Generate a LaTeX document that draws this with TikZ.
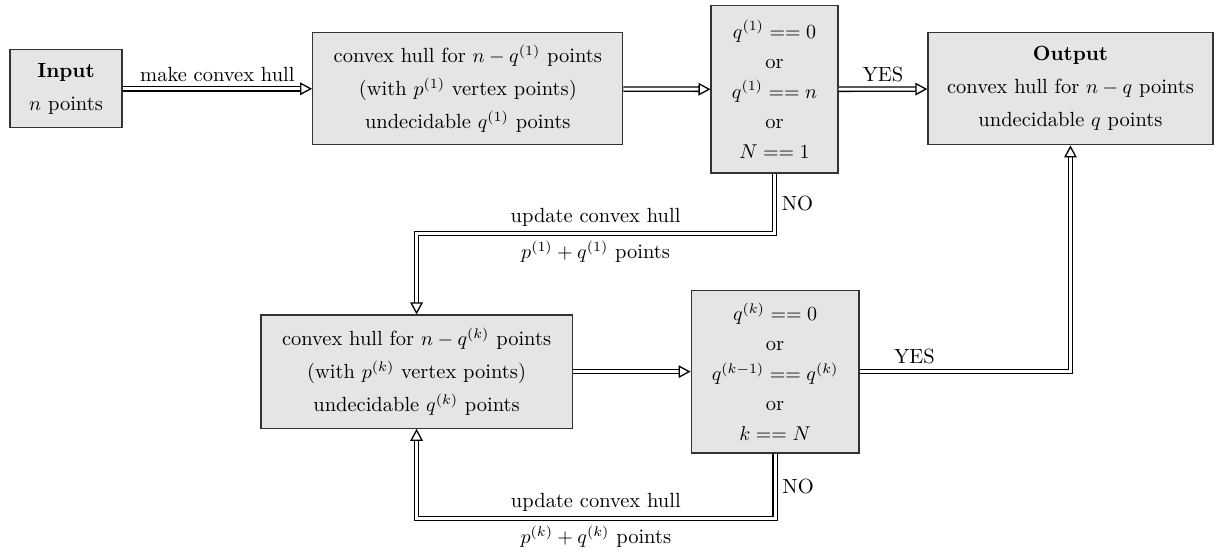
\documentclass[tikz,border=0pt]{standalone}
\usepackage{tikz}
\usetikzlibrary{arrows.meta}

\begin{document}
\begin{tikzpicture}[>={Triangle[open,length=6pt,width=6.3pt]}, semithick, font=\fontsize{10.25pt}{12.4pt}\selectfont]

    \tikzstyle{hullbox}=[draw=black!80, fill=gray!20, align=center, font=\fontsize{10.25pt}{16.5pt}\selectfont]
    \tikzstyle{testbox}=[hullbox, font=\fontsize{10.25pt}{15pt}\selectfont]
    \tikzstyle{flow}=[->, double, double distance=1.5pt, line width=0.65pt] % double arrows between boxes

    \useasboundingbox (0,0) rectangle (21.42,-9.70);

    % create the boxes of the first round
    \node[hullbox, minimum width=1.97cm, minimum height=1.37cm] (input) at (1.16,-1.56) {\textbf{Input}\\$n$ points};
    \node[hullbox, minimum width=5.45cm, minimum height=1.97cm] (hull_first) at (8.22,-1.56) {convex hull for $n-q^{(1)}$ points\\(with $p^{(1)}$ vertex points)\\undecidable $q^{(1)}$ points};
    \node[testbox, minimum width=2.23cm, minimum height=2.94cm] (test_first) at (13.61,-1.57) {$q^{(1)} == 0$\\or\\$q^{(1)} == n$\\or\\$N == 1$};
    \node[hullbox, minimum width=5.01cm, minimum height=1.97cm] (output) at (18.81,-1.56) {\textbf{Output}\\convex hull for $n-q$ points\\undecidable $q$ points};

    % boxes of the k-th round
    \node[hullbox, minimum width=5.47cm, minimum height=1.99cm] (hull_k) at (7.32,-6.53) {convex hull for $n-q^{(k)}$ points\\(with $p^{(k)}$ vertex points)\\undecidable $q^{(k)}$ points};
    \node[testbox, minimum width=2.95cm, minimum height=2.86cm] (test_k) at (13.62,-6.53) {$q^{(k)} == 0$\\or\\$q^{(k-1)} == q^{(k)}$\\or\\$k == N$};

    % straight arrows
    \draw[flow] (input) -- node[above] {make convex hull} (hull_first);
    \draw[flow] (hull_first) -- (test_first);
    \draw[flow] (test_first) -- node[above] {YES} (output);
    \draw[flow] (hull_k) -- (test_k);
    \draw[flow] (test_k) -| node[pos=0.13, above] {YES} (output);

    % the NO loops back to the k-th hull
    \draw[flow] (test_first.south) -- node[right] {NO} ++(0,-1.05) -| node[pos=0.25, above] {update convex hull} node[pos=0.25, below] {$p^{(1)}+q^{(1)}$ points} (hull_k.north);
    \draw[flow] (test_k.south) -- node[right] {NO} ++(0,-1.14) -| node[pos=0.25, above] {update convex hull} node[pos=0.25, below] {$p^{(k)}+q^{(k)}$ points} (hull_k.south);

\end{tikzpicture}
\end{document}
